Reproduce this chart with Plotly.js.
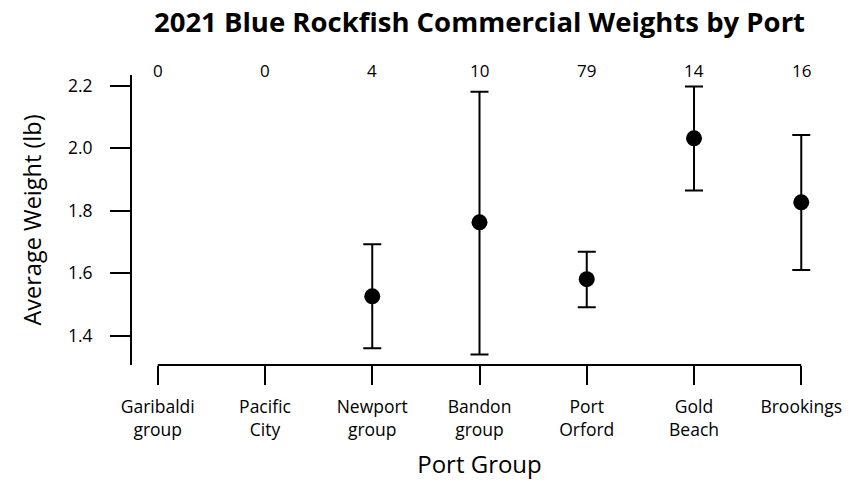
<!DOCTYPE html>
<html>
<head>
<meta charset="utf-8">
<script src="https://cdn.plot.ly/plotly-3.0.1.min.js"></script>
<style>html,body{margin:0;padding:0;background:#fff;} #chart{width:850px;height:482px;}</style>
</head>
<body>
<div id="chart"></div>
<script>
const ports = ["Garibaldi group", "Pacific City", "Newport group", "Bandon group", "Port Orford", "Gold Beach", "Brookings"];
const tickLabels = ["Garibaldi<br>group", "Pacific<br>City", "Newport<br>group", "Bandon<br>group", "Port<br>Orford", "Gold<br>Beach", "Brookings"];
const counts = [0, 0, 4, 10, 79, 14, 16];
const meanWeight = [null, null, 1.526, 1.763, 1.581, 2.032, 1.827];
const upperCI = [null, null, 1.693, 2.181, 1.669, 2.198, 2.043];
const lowerCI = [null, null, 1.360, 1.340, 1.491, 1.865, 1.610];

const xIdx = ports.map((_, i) => i);
const errPlus = meanWeight.map((m, i) => m == null ? null : upperCI[i] - m);
const errMinus = meanWeight.map((m, i) => m == null ? null : m - lowerCI[i]);

const FONT = "Open Sans, Noto Sans, DejaVu Sans, sans-serif";

const trace = {
  type: "scatter",
  mode: "markers",
  x: xIdx,
  y: meanWeight,
  marker: {color: "#000", size: 16},
  error_y: {type: "data", symmetric: false, array: errPlus, arrayminus: errMinus,
            color: "#000", thickness: 2, width: 9},
  hoverinfo: "skip",
  showlegend: false
};

const annotations = counts.map((c, i) => ({
  x: i, xref: "x", y: 1.014, yref: "paper", yanchor: "middle",
  text: String(c), showarrow: false, font: {family: FONT, size: 17, color: "#000"}
}));

const layout = {
  width: 850, height: 482,
  margin: {l: 132, r: 23, t: 75, b: 117},
  paper_bgcolor: "#fff", plot_bgcolor: "#fff",
  font: {family: FONT, color: "#000"},
  title: {text: "<b>2021 Blue Rockfish Commercial Weights by Port</b>", x: 0.5, xref: "paper",
          y: 1 - 22/482, yref: "container", yanchor: "middle", xanchor: "center",
          font: {family: FONT, size: 27.5, color: "#000"}},
  xaxis: {
    range: [-0.24, 6.24], tickvals: xIdx, ticktext: tickLabels,
    showgrid: false, zeroline: false, showline: false,
    ticks: "outside", ticklen: 19, tickwidth: 2, tickcolor: "#000",
    ticklabelstandoff: 7,
    tickfont: {family: FONT, size: 17.5, color: "#000"},
    title: {text: "Port Group", font: {family: FONT, size: 24, color: "#000"}, standoff: 16}
  },
  yaxis: {
    range: [1.306, 2.235], tickvals: [1.4, 1.6, 1.8, 2.0, 2.2], ticktext: ["1.4", "1.6", "1.8", "2.0", "2.2"],
    showgrid: false, zeroline: false, showline: true, linecolor: "#000", linewidth: 2,
    ticks: "outside", ticklen: 20, tickwidth: 2, tickcolor: "#000",
    ticklabelstandoff: 14,
    tickfont: {family: FONT, size: 17.5, color: "#000"},
    title: {text: "Average Weight (lb)", font: {family: FONT, size: 23.5, color: "#000"}, standoff: 20}
  },
  shapes: [{type: "line", xref: "x", yref: "paper", x0: 0, x1: 6, y0: 0, y1: 0,
            line: {color: "#000", width: 2}}],
  annotations: annotations
};

Plotly.newPlot("chart", [trace], layout, {staticPlot: true});
</script>
</body>
</html>
